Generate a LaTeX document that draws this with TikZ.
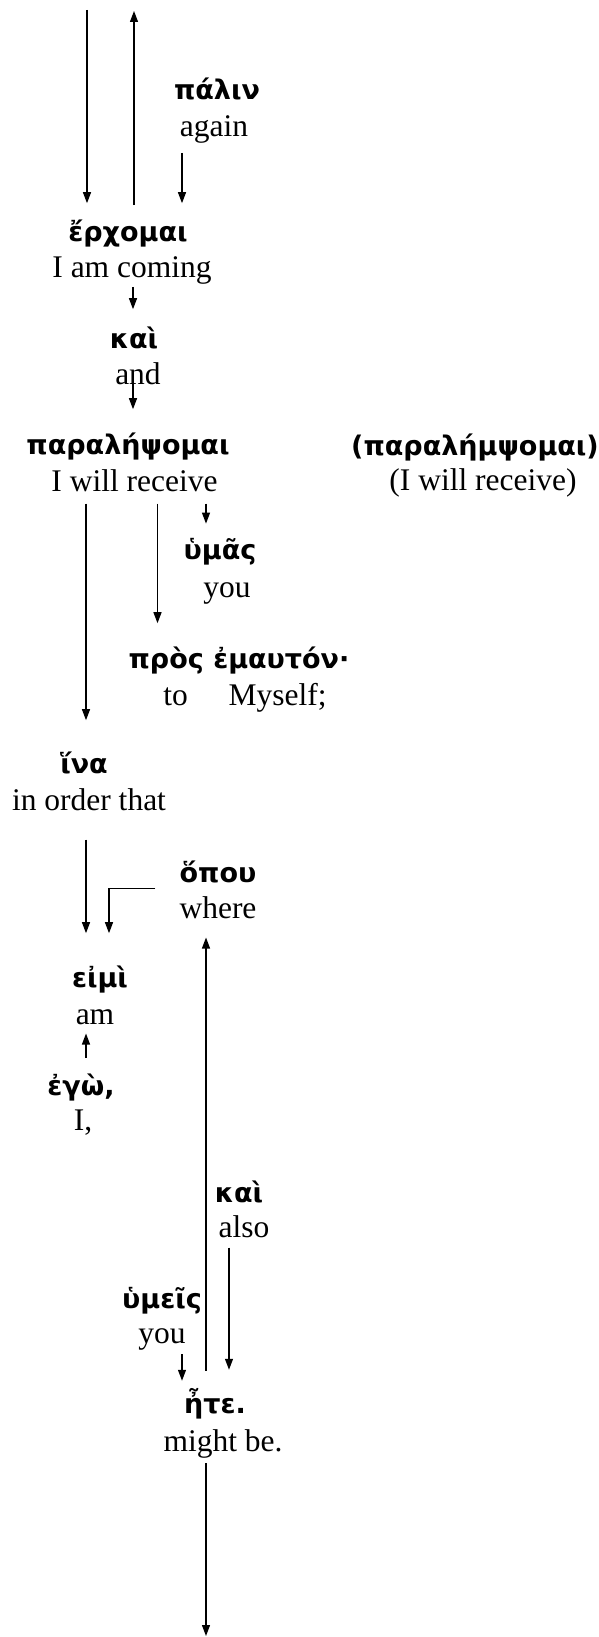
\documentclass[tikz,border=0pt]{standalone}
\usepackage{fontspec}
\setmainfont{Liberation Serif}
\newfontfamily\grk{DejaVu Sans}
\usetikzlibrary{calc,positioning}
\usetikzlibrary{arrows.meta}

\tikzset{
  gr/.style={font=\grk\bfseries\fontsize{27}{32}\selectfont,anchor=base,inner sep=0pt},
  en/.style={font=\fontsize{31.5}{36}\selectfont,anchor=base,inner sep=0pt},
  arr/.style={-{Triangle[length=11pt,width=8pt]},line width=1.2pt}
}

\begin{document}
\begin{tikzpicture}[x=1pt,y=-1pt]
\useasboundingbox (0,0) rectangle (599,1637);
% words and glosses
\node[gr] (palin) at (217,100) {πάλιν};        \node[en] (palinE) at (214,137) {again};
\node[gr] (erch) at (128,242) {ἔρχομαι};       \node[en] (erchE) at (132,277) {I am coming};
\node[gr] (kai) at (134,348) {καὶ};            \node[en] (kaiE) at (138,384) {and};
\node[gr] (para) at (128,454) {παραλήψομαι};   \node[en] (paraE) at (134.5,491) {I will receive};
\node[gr] (paraB) at (475,455) {(παραλήμψομαι)}; \node[en] (paraBE) at (483,490) {(I will receive)};
\node[gr] (humas) at (220,559) {ὑμᾶς};         \node[en] (humasE) at (227,597) {you};
\node[gr] (pros) at (239,668) {πρὸς ἐμαυτόν·}; \node[en] (prosE) at (245,705) {to\hspace{1.3em}Myself;};
\node[gr] (hina) at (84,773) {ἵνα};            \node[en] (hinaE) at (89,810) {in order that};
\node[gr] (hopou) at (218,882) {ὅπου};         \node[en] (hopouE) at (218,918) {where};
\node[gr] (eimi) at (100,987) {εἰμὶ};          \node[en] (eimiE) at (95,1024) {am};
\node[gr] (ego) at (81,1095) {ἐγὼ,};           \node[en] (egoE) at (83,1130) {I,};
\node[gr] (kaiB) at (239,1202) {καὶ};          \node[en] (kaiBE) at (244,1237) {also};
\node[gr] (humeis) at (162,1308) {ὑμεῖς};      \node[en] (humeisE) at (162,1343) {you};
\node[gr] (ete) at (215,1413) {ἦτε.};          \node[en] (eteE) at (223,1451) {might be.};
\coordinate (top1) at (87,10); \coordinate (top2) at (134,11); \coordinate (bot) at (206,1636);
% connectors
\draw[arr,shorten >=17pt] (top1) -- (top1 |- erch.north);
\draw[arr,shorten <=15pt] (top2 |- erch.north) -- (top2);
\draw[arr,shorten <=9pt,shorten >=17pt] ([xshift=-32pt]palinE.south) -- ([xshift=-32pt]palinE.south |- erch.north);
\draw[arr,shorten <=3pt,shorten >=17pt] ([xshift=1pt]erchE.south) -- ([xshift=1pt]erchE.south |- kai.north);
\draw[arr,shorten <=-2pt,shorten >=23pt] ([xshift=-5pt]kaiE.south) -- ([xshift=-5pt]kaiE.south |- para.north);
\draw[arr,shorten <=12pt,shorten >=31pt] ([xshift=2pt]hina.north |- paraE.south) -- ([xshift=2pt]hina.north);
\draw[arr,shorten <=12pt,shorten >=23pt] ([xshift=23pt]paraE.south) -- ([xshift=23pt]paraE.south |- pros.north);
\draw[arr,shorten <=12pt,shorten >=14pt] ([xshift=-14pt]humas.north |- paraE.south) -- ([xshift=-14pt]humas.north);
\draw[arr,shorten <=29pt,shorten >=32pt] ([xshift=-3pt]hinaE.south) -- ([xshift=-3pt]hinaE.south |- eimi.north);
\draw[arr,shorten <=24pt,shorten >=32pt] ([yshift=-6pt]hopou.south west) -| ([xshift=9pt]eimi.north);
\draw[arr,shorten <=15pt,shorten >=9pt] ([xshift=5pt]ego.north) -- ([xshift=5pt]ego.north |- eimiE.south);
\draw[arr,shorten <=17pt,shorten >=19pt] ([xshift=-9pt]ete.north) -- ([xshift=-9pt]ete.north |- hopouE.south);
\draw[arr,shorten <=10pt,shorten >=18pt] ([xshift=-15pt]kaiBE.south) -- ([xshift=-15pt]kaiBE.south |- ete.north);
\draw[arr,shorten <=4pt,shorten >=7pt] ([xshift=20pt]humeisE.south) -- ([xshift=20pt]humeisE.south |- ete.north);
\draw[arr,shorten <=5pt] (bot |- eteE.south) -- (bot);
\end{tikzpicture}
\end{document}
